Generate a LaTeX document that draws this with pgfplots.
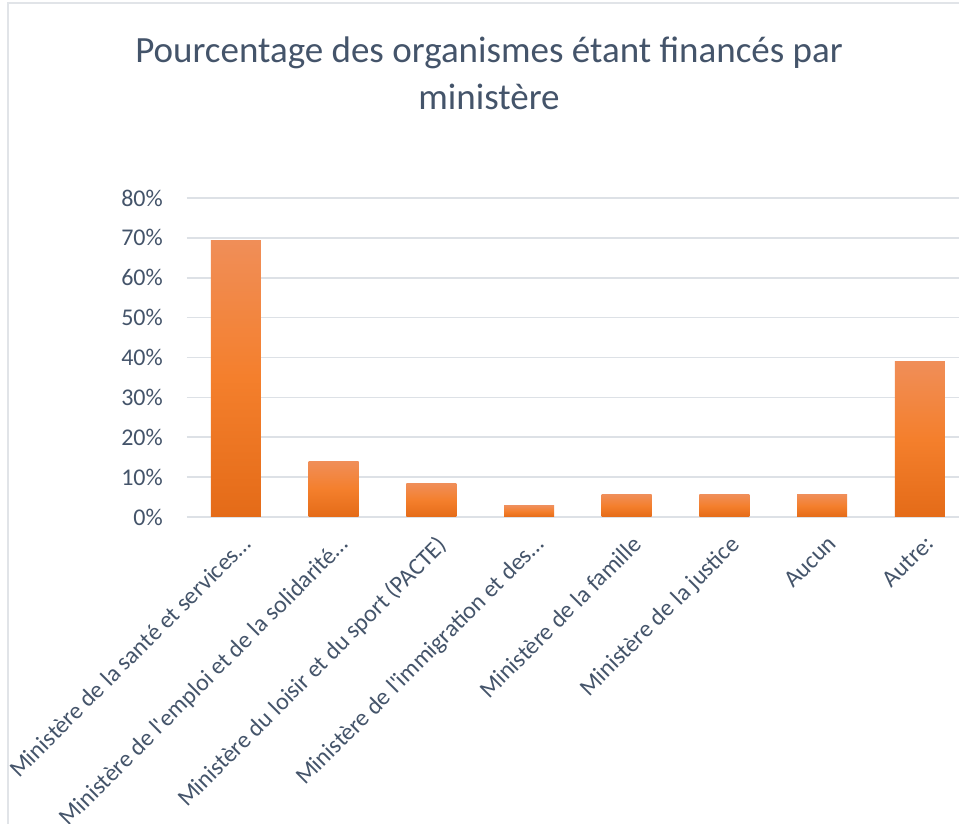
\documentclass[border=0pt]{standalone}
\usepackage{pgfplots}
\pgfplotsset{compat=1.18}
\usepackage{fontspec}
\setmainfont{Carlito}[Ligatures=TeXOff]
\definecolor{txt}{HTML}{44546A}
\definecolor{gridc}{HTML}{DDE1E6}
\definecolor{framec}{HTML}{E1E4E8}
\definecolor{barTop}{HTML}{F08E58}
\definecolor{barMid}{HTML}{F47F2C}
\definecolor{barBot}{HTML}{E46B18}
\begin{document}
\begin{tikzpicture}[x=1pt,y=1pt]
\path[use as bounding box] (0,0) rectangle (959,824);
\fill[white] (0,0) rectangle (959,824);
\draw[framec, line width=1.5pt] (8,-5) -- (8,821) -- (970,821);
\node[txt, font=\fontsize{37}{47}\selectfont, align=center, anchor=center] at (489,751)
  {Pourcentage des organismes étant financés par\\ministère};
\begin{axis}[
  at={(187pt,307pt)}, anchor=south west,
  scale only axis, width=772pt, height=319pt,
  xmin=-0.5, xmax=7.40, ymin=0, ymax=80,
  ytick={0,10,...,80},
  yticklabels={0\%,10\%,20\%,30\%,40\%,50\%,60\%,70\%,80\%},
  xtick={0,...,7},
  xticklabels={Ministère de la santé et services…,
    Ministère de l'emploi et de la solidarité…,
    Ministère du loisir et du sport (PACTE),
    Ministère de l'immigration et des…,
    Ministère de la famille,
    Ministère de la justice,
    Aucun,
    Autre:},
  major tick length=0pt,
  axis line style={draw=none},
  ymajorgrids,
  major grid style={gridc, line width=1.6pt},
  yticklabel style={font=\fontsize{24}{28}\selectfont, text=txt, anchor=east, inner sep=0pt, xshift=-24pt},
  xticklabel style={font=\fontsize{24}{28}\selectfont, text=txt, rotate=45, anchor=north east, inner sep=0pt, xshift=-9pt, yshift=-15pt},
  ybar, bar width=50pt,
  clip=false,
]
\addplot[bar shift=0pt, draw=none, top color=barTop, bottom color=barBot, middle color=barMid] coordinates {(0,69.44)};
\addplot[bar shift=0pt, draw=none, top color=barTop, bottom color=barBot, middle color=barMid] coordinates {(1,13.89)};
\addplot[bar shift=0pt, draw=none, top color=barTop, bottom color=barBot, middle color=barMid] coordinates {(2,8.33)};
\addplot[bar shift=0pt, draw=none, top color=barTop, bottom color=barBot, middle color=barMid] coordinates {(3,2.78)};
\addplot[bar shift=0pt, draw=none, top color=barTop, bottom color=barBot, middle color=barMid] coordinates {(4,5.56)};
\addplot[bar shift=0pt, draw=none, top color=barTop, bottom color=barBot, middle color=barMid] coordinates {(5,5.56)};
\addplot[bar shift=0pt, draw=none, top color=barTop, bottom color=barBot, middle color=barMid] coordinates {(6,5.56)};
\addplot[bar shift=0pt, draw=none, top color=barTop, bottom color=barBot, middle color=barMid] coordinates {(7,38.89)};
\end{axis}
\end{tikzpicture}
\end{document}
